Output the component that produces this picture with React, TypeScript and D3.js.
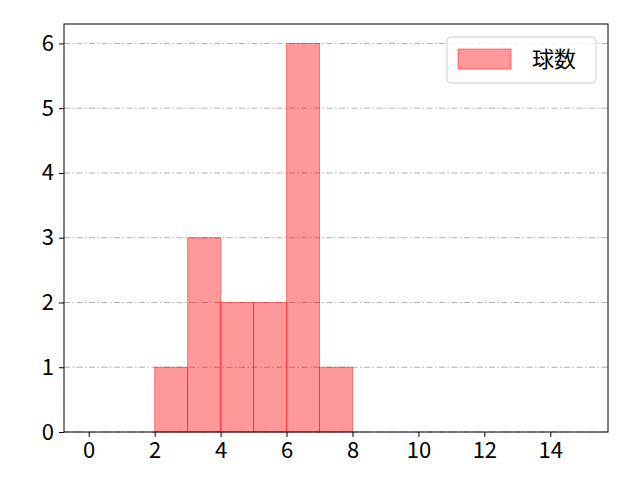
import { useEffect, useRef } from 'react'
import * as d3 from 'd3'

// histogram bins: [start, end) and count
const binStarts = [2, 3, 4, 5, 6, 7]
const binEnds = [3, 4, 5, 6, 7, 8]
const counts = [1, 3, 2, 2, 6, 1]
const xTicks = [0, 2, 4, 6, 8, 10, 12, 14]
const yTicks = [0, 1, 2, 3, 4, 5, 6]
const legendLabel = '球数'

const width = 640
const height = 480
const margin = { top: 24, right: 32, bottom: 48, left: 64 }
const font = '"Noto Sans CJK JP", "Noto Sans", sans-serif'

const App = () => {
  const xAxisRef = useRef<SVGGElement>(null)
  const yAxisRef = useRef<SVGGElement>(null)

  const xScale = d3
    .scaleLinear()
    .domain([-0.75, 15.75])
    .range([margin.left, width - margin.right])

  const yScale = d3
    .scaleLinear()
    .domain([0, 6.3])
    .range([height - margin.bottom, margin.top])

  const bars = counts.map((c, i) => ({
    x: xScale(binStarts[i]),
    w: xScale(binEnds[i]) - xScale(binStarts[i]),
    y: yScale(c),
    h: yScale(0) - yScale(c),
  }))

  useEffect(() => {
    const xAxis = d3
      .axisBottom(xScale)
      .tickValues(xTicks)
      .tickFormat(d3.format('d'))
      .tickSize(5)
      .tickPadding(5)
    const yAxis = d3
      .axisLeft(yScale)
      .tickValues(yTicks)
      .tickFormat(d3.format('d'))
      .tickSize(5)
      .tickPadding(5)
    const style = (g: d3.Selection<SVGGElement, unknown, null, undefined>) => {
      g.select('.domain').remove()
      g.selectAll('line').attr('stroke', '#000').attr('stroke-width', 1)
      g.selectAll('text')
        .attr('font-family', font)
        .attr('font-size', 22)
        .attr('fill', '#000')
    }
    xAxisRef.current && d3.select(xAxisRef.current).call(xAxis).call(style)
    yAxisRef.current && d3.select(yAxisRef.current).call(yAxis).call(style)
  }, [])

  return (
    <svg
      width={width}
      height={height}
      style={{ position: 'absolute', left: 0, top: 0 }}
    >
      <rect width={width} height={height} fill="#fff" />
      {yTicks.map(t => (
        <line
          key={t}
          x1={margin.left}
          x2={width - margin.right}
          y1={yScale(t)}
          y2={yScale(t)}
          stroke="#b0b0b0"
          strokeWidth={1}
          strokeDasharray="6,2.5,1.5,2.5"
        />
      ))}
      {bars.map((b, i) => (
        <rect
          key={i}
          x={b.x}
          y={b.y}
          width={b.w}
          height={b.h}
          fill="#ff0000"
          fillOpacity={0.4}
          stroke="#ff0000"
          strokeOpacity={0.45}
          strokeWidth={1}
        />
      ))}
      <rect
        x={margin.left}
        y={margin.top}
        width={width - margin.left - margin.right}
        height={height - margin.top - margin.bottom}
        fill="none"
        stroke="#000"
        strokeWidth={1}
      />
      <g ref={xAxisRef} transform={`translate(0, ${height - margin.bottom})`} />
      <g ref={yAxisRef} transform={`translate(${margin.left}, 0)`} />
      <g transform="translate(447, 37)">
        <rect
          width={149}
          height={46}
          rx={4}
          fill="#fff"
          fillOpacity={0.8}
          stroke="#cccccc"
          strokeWidth={1}
        />
        <rect
          x={11}
          y={12}
          width={53}
          height={20}
          fill="#ff0000"
          fillOpacity={0.4}
          stroke="#ff0000"
          strokeOpacity={0.45}
        />
        <text x={85} y={30} fontFamily={font} fontSize={22} fill="#000">
          {legendLabel}
        </text>
      </g>
    </svg>
  )
}

export default App
